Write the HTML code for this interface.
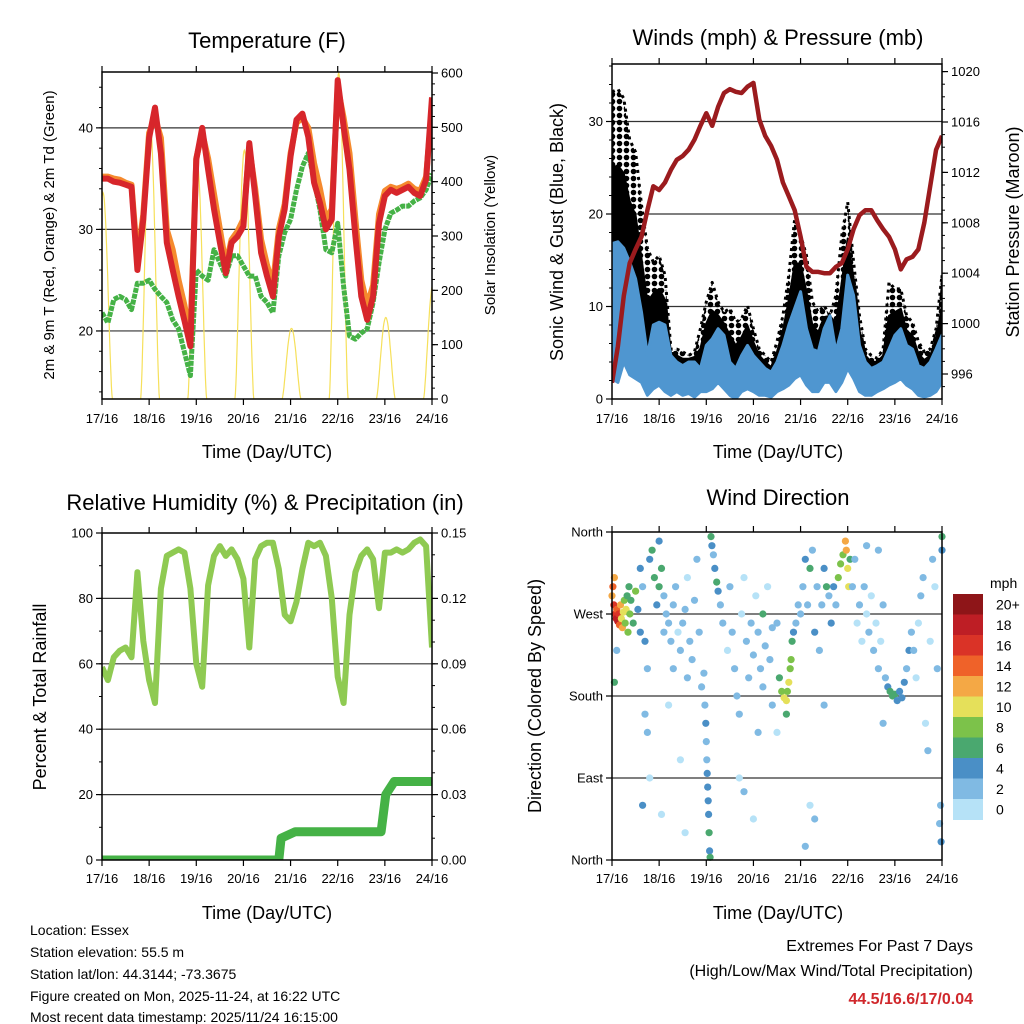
<!DOCTYPE html>
<html>
<head>
<meta charset="utf-8">
<style>
html,body{margin:0;padding:0;background:#fff;}
svg{display:block;font-family:"Liberation Sans",sans-serif;}
</style>
</head>
<body>
<svg id="fig" width="1024" height="1024" viewBox="0 0 1024 1024" xmlns="http://www.w3.org/2000/svg">
<defs>
<pattern id="gustDots" width="7" height="7" patternUnits="userSpaceOnUse">
<circle cx="3.5" cy="3.5" r="2.8" fill="#000"/>
</pattern>
<clipPath id="c1"><rect x="102" y="72" width="330" height="327"/></clipPath>
<clipPath id="c2"><rect x="612" y="64" width="330" height="335"/></clipPath>
<clipPath id="c3"><rect x="102" y="533" width="330" height="327"/></clipPath>
<clipPath id="c4"><rect x="608" y="528" width="338" height="336"/></clipPath>
</defs>
<rect x="0" y="0" width="1024" height="1024" fill="#fff"/>

<text x="267" y="48" font-size="22" text-anchor="middle">Temperature (F)</text>
<text x="778" y="45" font-size="22" text-anchor="middle">Winds (mph) &amp; Pressure (mb)</text>
<text x="265" y="510" font-size="22" text-anchor="middle">Relative Humidity (%) &amp; Precipitation (in)</text>
<text x="778" y="505" font-size="22" text-anchor="middle">Wind Direction</text>

<text x="267" y="458" font-size="18" text-anchor="middle">Time (Day/UTC)</text>
<text x="778" y="458" font-size="18" text-anchor="middle">Time (Day/UTC)</text>
<text x="267" y="919" font-size="18" text-anchor="middle">Time (Day/UTC)</text>
<text x="778" y="919" font-size="18" text-anchor="middle">Time (Day/UTC)</text>

<text transform="translate(54,235) rotate(-90)" font-size="15" text-anchor="middle">2m &amp; 9m T (Red, Orange) &amp; 2m Td (Green)</text>
<text transform="translate(495,235) rotate(-90)" font-size="15" text-anchor="middle">Solar Insolation (Yellow)</text>
<text transform="translate(563,232) rotate(-90)" font-size="18" text-anchor="middle">Sonic Wind &amp; Gust (Blue, Black)</text>
<text transform="translate(1019,232) rotate(-90)" font-size="18" text-anchor="middle">Station Pressure (Maroon)</text>
<text transform="translate(46,697) rotate(-90)" font-size="18" text-anchor="middle">Percent &amp; Total Rainfall</text>
<text transform="translate(541,696) rotate(-90)" font-size="18" text-anchor="middle">Direction (Colored By Speed)</text>

<g font-size="14">
<text x="30" y="935">Location: Essex</text>
<text x="30" y="957">Station elevation: 55.5 m</text>
<text x="30" y="979">Station lat/lon: 44.3144; -73.3675</text>
<text x="30" y="1001">Figure created on Mon, 2025-11-24, at 16:22 UTC</text>
<text x="30" y="1022">Most recent data timestamp: 2025/11/24 16:15:00</text>
</g>
<g font-size="16" text-anchor="end">
<text x="973" y="951">Extremes For Past 7 Days</text>
<text x="973" y="976">(High/Low/Max Wind/Total Precipitation)</text>
<text x="973" y="1004" fill="#d0282c" font-weight="bold">44.5/16.6/17/0.04</text>
</g>

<g id="layer"></g>
</svg>

<script>
// ---------- data (3-hourly grid, day 0 = 17/16 UTC) ----------
const dayLabels = ["17/16","18/16","19/16","20/16","21/16","22/16","23/16","24/16"];
const tempRed = [35,35,34.7,34.6,34.4,34.2,26,31,39,42,37.5,28.7,26,23.4,21,18.5,36.9,40,35.9,32,28.7,25.7,28.7,29.3,30.3,38.5,33.3,27.7,25.4,23.4,29.3,32,37.2,40.8,41.4,39.1,34.6,32.6,30,31,44.7,40.1,35.9,29.3,23.4,21.1,23.4,30.6,33.3,33.9,33.6,33.9,34.2,33.6,33.3,34.9,43];
const tempOrange = [35.2,35.2,35,34.9,34.6,34.4,27,31.5,39.5,41,39,30,28,25,22.5,19.5,37,39.5,37,33.5,30,26.5,29,29.8,31,38,34,29,26.5,24.5,30,32.5,37.5,40.5,41,40,36.5,34,31,32,44,41,37.5,31,25,22.5,24.5,31.5,33.8,34.2,34,34.2,34.5,34,33.8,35.2,42];
const dewGreen = [21.8,20.8,23.1,23.4,23.1,22.1,24.7,24.7,25,24.1,23.4,22.8,21.1,20.2,17.9,15.6,26,25.4,25,28,26.7,25.4,27.4,27.4,26.4,25.4,25.4,23.4,22.8,21.8,27.4,29.7,31,33.9,36.2,37.5,34.9,31.9,28,27.7,30.6,24.4,19.5,19.2,19.8,20.2,22.8,26.7,30,31.6,31.9,32.3,32.3,32.8,33.1,33.9,35.5];
const solarPeak = [380,508,435,458,130,600,150,210];
const windLow = [2.2,1.8,4,2.6,2.2,1.8,0.4,1.1,1.5,0.8,0.4,0.8,0.4,0.6,0.2,0.8,0.8,1.1,1.8,1.1,0.4,0,0.8,1.1,0.8,0.4,0.4,0.2,0.8,1.1,1.5,2.2,2.6,1.5,0.8,0.8,1.8,1.8,0.8,1.8,3.3,2.2,0.8,0.4,0.4,0.8,1.1,1.5,1.8,2.2,1.5,1.1,0.4,0.2,0.4,0.8,1.8];
const windHigh = [16.8,17,16.3,14.8,13,9.4,4.7,8,8.3,8,4.7,4,3.6,4,4,3.3,5.8,6.5,7.6,6.9,4,3.3,4.7,5.8,4.7,4,3.3,2.9,4,5.8,8,9.8,11.6,7.6,5.4,5.1,7.6,9,5.1,7.6,13.4,11.2,5.8,4,3.3,3.6,4,5.4,6.9,7.6,5.8,5.4,3.6,3.3,4,5.4,6.9];
const gustHigh = [33.2,33.5,32.5,28,26.7,21,16.3,14.8,15.5,13.4,5.4,5.4,5.1,4.7,5.1,7.6,10.5,12.6,10.5,9.4,9.8,8.3,8.7,10.1,7.6,5.4,4.7,4,6.2,9,13.4,19.5,17.7,15.5,10.5,9.4,10.1,9,11.2,17.7,21.3,14.8,9,5.4,4.7,4.4,5.4,12.6,11.9,11.9,9,8.3,6.2,5.1,5.4,7.6,13.4];
const pressure = [995.3,998.2,1002.2,1004.8,1005.9,1006.9,1009,1010.9,1010.6,1011.2,1012.2,1013,1013.3,1013.8,1014.6,1015.7,1016.7,1015.7,1017.2,1018.3,1018.6,1018.4,1018.3,1018.8,1019.1,1016.2,1014.9,1014.1,1013,1011.2,1010.1,1009,1006.9,1004.5,1004.1,1004.1,1004,1004,1004.5,1004.8,1005.9,1007.5,1008.6,1009,1009,1008.2,1007.5,1006.9,1005.9,1004.3,1005.1,1005.3,1005.9,1008,1010.9,1013.8,1014.9];
const relHum = [59,55,62,64,65,62,88,67,55,48,83,93,94,95,94,83,60,53,84,93,96,93,95,92,86,65,92,96,97,97,89,75,73,79,89,97,96,97,93,80,56,48,75,88,93,95,92,77,94,94,95,94,95,97,98,96,65];
const rainDays = [0,3.75,3.8,4.1,5.92,6.02,6.2,7];
const rainTotal = [0,0,0.01,0.013,0.013,0.03,0.036,0.036];
const dirDay = [0.0,0.02,0.04,0.05,0.07,0.09,0.1,0.12,0.14,0.16,0.18,0.2,0.22,0.24,0.26,0.28,0.3,0.32,0.34,0.36,0.38,0.4,0.45,0.5,0.55,0.6,0.1,0.05,
0.6,0.65,0.7,0.75,0.8,0.85,0.9,0.95,1.0,1.0,1.05,1.1,1.1,1.15,1.2,1.25,1.3,1.35,1.4,1.45,1.5,1.55,1.6,1.65,1.7,0.7,0.75,0.65,0.8,1.05,1.2,1.3,1.45,1.55,1.6,1.75,1.8,1.85,1.9,
1.95,1.97,1.99,2.0,2.01,2.02,2.03,2.04,2.05,2.06,2.07,2.08,2.1,2.12,2.15,2.18,2.22,2.25,2.3,2.35,
2.45,2.5,2.55,2.6,2.65,2.7,2.75,2.8,2.85,2.9,2.95,3.0,3.05,3.1,3.15,3.2,3.2,3.25,3.3,3.35,3.4,2.7,2.8,3.0,3.1,3.4,3.5,3.5,
3.55,3.6,3.65,3.7,3.72,3.75,3.78,3.8,3.82,3.85,3.9,3.95,3.7,
4.0,4.05,4.1,4.15,4.2,4.25,4.3,4.35,4.4,4.45,4.5,4.55,4.6,4.65,4.7,4.75,4.8,4.85,4.9,4.95,4.97,5.0,5.02,5.05,4.2,4.3,4.5,4.1,
5.1,5.15,5.2,5.25,5.3,5.35,5.4,5.45,5.5,5.55,5.6,5.65,5.7,5.75,5.8,5.85,5.9,5.95,5.65,5.4,5.75,
6.0,6.05,6.1,6.15,6.2,6.25,6.3,6.35,6.4,6.45,6.5,6.55,6.6,6.65,6.7,6.75,6.8,6.85,6.9,6.95,6.98,7.0,7.0,6.97];
const dirDeg = [290,300,280,310,270,265,275,262,270,258,280,265,255,272,285,260,275,290,250,300,270,285,260,295,275,250,230,195,
320,300,240,210,330,340,310,280,350,300,320,250,290,270,260,240,280,300,250,230,260,275,310,240,220,160,140,60,90,50,170,210,110,30,200,285,330,250,190,
205,170,150,130,110,95,80,65,50,30,10,3,355,345,335,320,305,295,280,260,
230,300,250,210,180,160,270,310,240,200,260,225,290,250,210,270,190,235,300,220,255,90,75,45,140,170,140,260,
200,185,178,175,185,195,210,220,240,250,260,280,160,
270,300,330,280,320,340,250,300,230,280,320,300,290,260,300,280,310,325,335,350,340,320,300,330,60,45,170,15,
300,330,260,280,240,300,270,250,290,230,260,210,240,280,200,190,185,180,340,345,150,
182,175,185,178,195,210,230,250,230,200,260,290,310,150,120,240,330,300,210,40,20,355,340,60];
const dirSpd = [12,14,16,12,17,18,15,19,16,14,13,11,12,10,9,8,10,7,8,6,9,7,6,8,5,4,3,6,
4,3,4,3,5,7,6,5,4,6,7,3,2,2,3,2,2,2,1,2,3,2,1,2,2,3,2,4,1,1,1,2,1,1,3,2,2,3,2,
3,3,4,3,3,4,4,4,5,6,5,6,6,4,3,4,7,5,3,3,
1,2,3,3,2,3,1,1,2,3,2,2,1,3,3,6,2,3,1,2,3,1,2,1,2,2,1,3,
7,9,10,11,8,10,9,8,7,4,3,2,7,
3,2,4,3,7,3,4,3,3,2,5,6,3,4,4,3,8,8,9,12,13,10,11,6,1,2,2,3,
3,2,1,2,1,2,1,2,1,2,1,2,1,2,2,5,6,7,2,3,2,
6,5,4,4,4,3,4,3,2,1,1,2,2,1,2,1,2,1,2,3,4,6,5,3];
const speedLabels = ["0","2","4","6","8","10","12","14","16","18","20+"];
const speedColors = ["#b6e2f7","#80bae3","#4a8fc6","#4aa86f","#7cc24a","#e5e05a","#f4a845","#ef6229","#da3327","#be1e25","#8e1518"];

// ---------- helpers ----------
const NS = "http://www.w3.org/2000/svg";
const layer = document.getElementById("layer");
function mk(tag, attrs, parent){
  const el = document.createElementNS(NS, tag);
  for (const k in attrs) el.setAttribute(k, attrs[k]);
  (parent||layer).appendChild(el);
  return el;
}
function pts(a){ return a.map(p => p[0].toFixed(1)+","+p[1].toFixed(1)).join(" "); }
const STEP = 0.125;

const P1={x0:102,x1:432,y0:72,y1:399}, P2={x0:612,x1:942,y0:64,y1:399}, P3={x0:102,x1:432,y0:533,y1:860}, P4={x0:612,x1:942,y0:532,y1:860};
function xOf(P,d){ return P.x0 + d/7*(P.x1-P.x0); }
const yT = v => 399 - (v-13.3)*10.155;
const ySol = v => 399 - v*(326/600);
const yW = v => 399 - v*9.25;
const yP = v => 374 - (v-996)*12.6;
const yRH = v => 860 - v*3.27;
const yPr = v => 860 - v/0.15*327;
const yD = v => 860 - v/360*328;

function gridLine(P, y, name){
  const l = mk("line",{x1:P.x0,x2:P.x1,y1:y,y2:y,stroke:"#333","stroke-width":1.2});
  
  
}
function frame(P, name){
  const r = mk("rect",{x:P.x0,y:P.y0,width:P.x1-P.x0,height:P.y1-P.y0,fill:"none",stroke:"#000","stroke-width":1.5});
  
  
}
function xTicks(P, labelY, name){
  for (let i=0;i<dayLabels.length;i++){
    const x = xOf(P,i);
    const t1 = mk("line",{x1:x,x2:x,y1:P.y1,y2:P.y1+6,stroke:"#000","stroke-width":1.2});
    
    
    const t2 = mk("line",{x1:x,x2:x,y1:P.y0,y2:P.y0-6,stroke:"#000","stroke-width":1.2});
    
    
    const tx = mk("text",{x:x,y:labelY,"font-size":13,"text-anchor":"middle"});
    tx.textContent = dayLabels[i];
    
    
  }
}
function yTicks(P, side, majors, labels, minors, scale, name){
  const x = side==="left" ? P.x0 : P.x1;
  const dir = side==="left" ? -1 : 1;
  majors.forEach((v,i)=>{
    const y = scale(v);
    const t = mk("line",{x1:x,x2:x+dir*6,y1:y,y2:y,stroke:"#000","stroke-width":1.2});
    
    
    const tx = mk("text",{x:x+dir*9,y:y+4.5,"font-size":13,"text-anchor":side==="left"?"end":"start"});
    tx.textContent = labels[i];
    
    
  });
  minors.forEach(v=>{
    const y = scale(v);
    const t = mk("line",{x1:x,x2:x+dir*3,y1:y,y2:y,stroke:"#000","stroke-width":1});
    
    
  });
}
function range(a,b,s){ const r=[]; for(let v=a; v<=b+1e-9; v+=s) r.push(+v.toFixed(4)); return r; }

[20,30,40].forEach(v=>gridLine(P1,yT(v),'temperature-gridline'));
[10,20,30].forEach(v=>gridLine(P2,yW(v),'wind-gridline'));
[20,40,60,80].forEach(v=>gridLine(P3,yRH(v),'humidity-gridline'));
[90,180,270].forEach(v=>gridLine(P4,yD(v),'direction-gridline'));

// ---------- Panel 1 ----------
const g1 = mk("g",{"clip-path":"url(#c1)"});


const solPts = [];
for (let i=0;i<=700;i++){
  const t = i/100;
  const d = Math.round(t-0.02);
  const u = (t-(d-0.18))/0.40;
  let v = 0;
  if (u>=0 && u<=1 && d>=0 && d<solarPeak.length) v = solarPeak[d]*Math.pow(Math.sin(Math.PI*u),1.5);
  solPts.push([xOf(P1,t), ySol(v)]);
}
const sol = mk("polyline",{points:pts(solPts),fill:"none",stroke:"#f6e05a","stroke-width":1.2},g1);


const dew = mk("polyline",{points:pts(dewGreen.map((v,i)=>[xOf(P1,i*STEP),yT(v)])),fill:"none",stroke:"#45b246","stroke-width":5,"stroke-linejoin":"round","stroke-dasharray":"5 1"},g1);


const org = mk("polyline",{points:pts(tempOrange.map((v,i)=>[xOf(P1,i*STEP),yT(v)])),fill:"none",stroke:"#f58a2e","stroke-width":6,"stroke-linejoin":"round"},g1);


const red = mk("polyline",{points:pts(tempRed.map((v,i)=>[xOf(P1,i*STEP),yT(v)])),fill:"none",stroke:"#d7262b","stroke-width":6,"stroke-linejoin":"round"},g1);



// ---------- Panel 2 ----------
const g2 = mk("g",{"clip-path":"url(#c2)"});


const gustPoly = gustHigh.map((v,i)=>[xOf(P2,i*STEP),yW(v)]).concat(windHigh.map((v,i)=>[xOf(P2,i*STEP),yW(v)]).reverse());
const gust = mk("polygon",{points:pts(gustPoly),fill:"url(#gustDots)",stroke:"#000","stroke-width":3,"stroke-dasharray":"3 4","stroke-linejoin":"round"},g2);


const gustCore = gustHigh.map((v,i)=>[xOf(P2,i*STEP),yW(windHigh[i]+0.5*(v-windHigh[i]))]).concat(windHigh.map((v,i)=>[xOf(P2,i*STEP),yW(v)]).reverse());
const core = mk("polygon",{points:pts(gustCore),fill:"#000",stroke:"#000","stroke-width":2,"stroke-linejoin":"round"},g2);


const bandPoly = windHigh.map((v,i)=>[xOf(P2,i*STEP),yW(v)]).concat(windLow.map((v,i)=>[xOf(P2,i*STEP),yW(v)]).reverse());
const band = mk("polygon",{points:pts(bandPoly),fill:"#4f96d0",stroke:"#4f96d0","stroke-width":3,"stroke-linejoin":"round"},g2);


const pr = mk("polyline",{points:pts(pressure.map((v,i)=>[xOf(P2,i*STEP),yP(v)])),fill:"none",stroke:"#9b1b1e","stroke-width":4.5,"stroke-linejoin":"round"},g2);



// ---------- Panel 3 ----------
const g3 = mk("g",{"clip-path":"url(#c3)"});


const rh = mk("polyline",{points:pts(relHum.map((v,i)=>[xOf(P3,i*STEP),yRH(v)])),fill:"none",stroke:"#8fca52","stroke-width":6,"stroke-linejoin":"round"},g3);


const rain = mk("polyline",{points:pts(rainTotal.map((v,i)=>[xOf(P3,rainDays[i]),yPr(v)])),fill:"none",stroke:"#45b246","stroke-width":9,"stroke-linejoin":"round","stroke-linecap":"round"},g3);



// ---------- Panel 4 ----------
const g4 = mk("g",{"clip-path":"url(#c4)"});


for (let i=0;i<dirDay.length;i++){
  const bin = Math.min(10, Math.floor(dirSpd[i]/2));
  const c = mk("circle",{cx:xOf(P4,dirDay[i]).toFixed(1),cy:yD(dirDeg[i]).toFixed(1),r:3.6,fill:speedColors[bin]},g4);
  
  
}

frame(P1,'temperature-frame'); frame(P2,'wind-frame'); frame(P3,'humidity-frame'); frame(P4,'direction-frame');
xTicks(P1,423,'temperature-x-axis'); xTicks(P2,423,'wind-x-axis'); xTicks(P3,883,'humidity-x-axis'); xTicks(P4,883,'direction-x-axis');
yTicks(P1,'left',[20,30,40],["20","30","40"],range(14,44,2),yT,'temperature-y-axis');
yTicks(P1,'right',range(0,600,100),["0","100","200","300","400","500","600"],range(0,600,20),ySol,'solar-y-axis');
yTicks(P2,'left',[0,10,20,30],["0","10","20","30"],range(0,36,2),yW,'wind-y-axis');
yTicks(P2,'right',[996,1000,1004,1008,1012,1016,1020],["996","1000","1004","1008","1012","1016","1020"],range(995,1020,1),yP,'pressure-y-axis');
yTicks(P3,'left',[0,20,40,60,80,100],["0","20","40","60","80","100"],range(0,100,10),yRH,'humidity-y-axis');
yTicks(P3,'right',[0,0.03,0.06,0.09,0.12,0.15],["0.00","0.03","0.06","0.09","0.12","0.15"],range(0,0.15,0.01),yPr,'precip-y-axis');
yTicks(P4,'left',[0,90,180,270,360],["North","East","South","West","North"],[],yD,'direction-y-axis');

const cbTop = 594, cbH = 20.5;
const mph = mk("text",{x:990,y:588,"font-size":14});
mph.textContent = "mph";


for (let i=0;i<speedColors.length;i++){
  const k = speedColors.length-1-i;
  const y = cbTop + i*cbH;
  const r = mk("rect",{x:953,y:y,width:30,height:cbH+0.5,fill:speedColors[k]});
  
  
  const t = mk("text",{x:996,y:y+cbH/2+5,"font-size":14});
  t.textContent = speedLabels[k];
  
  
}
</script>
</body>
</html>
